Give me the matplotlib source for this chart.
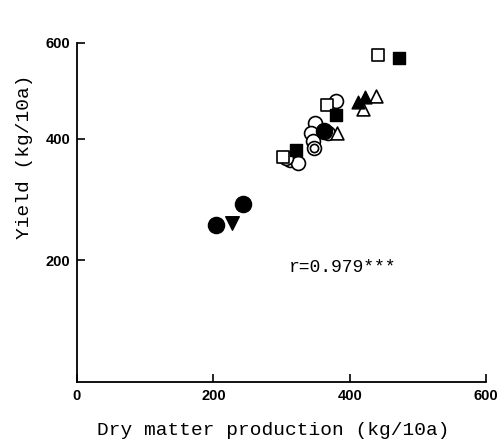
import numpy as np
import matplotlib
matplotlib.use('Agg')
import matplotlib.pyplot as plt

# Data: dry matter production vs yield (kg/10a)
filled_circle_x = [204, 244, 362]
filled_circle_y = [258, 293, 417]

filled_tri_down_x = [228]
filled_tri_down_y = [261]

open_circle_x = [380, 349, 344, 368, 346, 347, 312, 324, 306]
open_circle_y = [480, 434, 412, 412, 396, 385, 365, 360, 368]

small_circle_x = [347]
small_circle_y = [385]

open_square_x = [441, 367, 302]
open_square_y = [575, 471, 371]

filled_square_x = [473, 380, 322]
filled_square_y = [568, 450, 382]

filled_tri_x = [412, 423]
filled_tri_y = [478, 488]

open_tri_x = [438, 420, 381]
open_tri_y = [490, 462, 412]

x_ticks = [0, 200, 400, 600]
y_ticks = [200, 400, 600]
r_text = 'r=0.979***'

# the printed axis is compressed above 400
k = 0.79


def fwd(y):
    y = np.asarray(y, dtype=float)
    return np.where(y <= 400, y, 400 + (y - 400) * k)


def inv(y):
    y = np.asarray(y, dtype=float)
    return np.where(y <= 400, y, 400 + (y - 400) / k)


mono = 'Liberation Mono'
tickfont = dict(family=['Liberation Sans Narrow', 'Liberation Sans', 'DejaVu Sans'],
                weight='bold', size=10.5)

fig = plt.figure(figsize=(4.98, 4.41), dpi=100)
ax = fig.add_axes([0.1546, 0.1338, 0.8213, 0.7687])
ax.set_yscale('function', functions=(fwd, inv))

lw = 1.2
ax.scatter(open_circle_x, open_circle_y, s=100, marker='o', facecolors='white',
           edgecolors='black', linewidths=lw, zorder=3)
ax.scatter(small_circle_x, small_circle_y, s=35, marker='o', facecolors='white',
           edgecolors='black', linewidths=lw, zorder=4)
ax.scatter(open_square_x, open_square_y, s=80, marker='s', facecolors='white',
           edgecolors='black', linewidths=lw, zorder=3)
ax.scatter(open_tri_x, open_tri_y, s=85, marker='^', facecolors='white',
           edgecolors='black', linewidths=lw, zorder=3)
ax.scatter(filled_square_x, filled_square_y, s=80, marker='s', color='black', zorder=4)
ax.scatter(filled_tri_x, filled_tri_y, s=85, marker='^', color='black', zorder=4)
ax.scatter(filled_circle_x, filled_circle_y, s=135, marker='o', color='black', zorder=4)
ax.scatter(filled_tri_down_x, filled_tri_down_y, s=95, marker='v', color='black', zorder=4)

ax.set_xlim(0, 600)
ax.set_ylim(0, 600)
ax.set_xticks(x_ticks)
ax.set_yticks(y_ticks)
ax.set_xticklabels([str(t) for t in x_ticks], fontdict=tickfont)
ax.set_yticklabels([str(t) for t in y_ticks], fontdict=tickfont)
ax.tick_params(direction='in', length=6, width=1.2, pad=5)

ax.spines['top'].set_visible(False)
ax.spines['right'].set_visible(False)
for s in ['left', 'bottom']:
    ax.spines[s].set_linewidth(1.3)

ax.set_xlabel('Dry matter production (kg/10a)', family=mono, fontsize=14)
ax.set_ylabel('Yield (kg/10a)', family=mono, fontsize=14)
ax.xaxis.set_label_coords(0.48, -0.118)
ax.yaxis.set_label_coords(-0.108, 0.664)

ax.text(390, 188, r_text, family=mono, fontsize=13, ha='center', va='center')

fig.savefig('out.png', dpi=100)
